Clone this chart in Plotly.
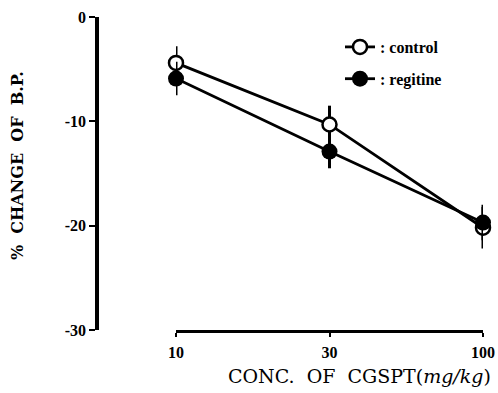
import plotly.graph_objects as go

doses = ["10", "30", "100"]
control = [-4.4, -10.3, -20.2]
control_err = [1.6, 1.8, 2.0]
regitine = [-5.9, -12.9, -19.7]
regitine_err = [1.6, 1.6, 1.7]
y_ticks = [0, -10, -20, -30]
y_ticktext = ["0", "-10", "-20", "-30"]

W, H = 498, 393
serif = "Liberation Serif"
wide_serif = "DejaVu Serif"

fig = go.Figure()
fig.add_trace(go.Scatter(
    x=doses, y=control, name=": control", mode="lines+markers",
    line=dict(color="black", width=2.8),
    marker=dict(symbol="circle", size=14, color="white", line=dict(color="black", width=2.5)),
    error_y=dict(type="data", array=control_err, visible=True, color="black", thickness=3, width=0),
    cliponaxis=False, legendgroup="a",
))
fig.add_trace(go.Scatter(
    x=doses, y=regitine, name=": regitine", mode="lines+markers",
    line=dict(color="black", width=2.8),
    marker=dict(symbol="circle", size=16, color="black", line=dict(color="black", width=0)),
    error_y=dict(type="data", array=regitine_err, visible=True, color="black", thickness=3, width=0),
    cliponaxis=False, legendgroup="b",
))

fig.update_layout(
    width=W, height=H,
    margin=dict(l=0, r=0, t=0, b=0, autoexpand=False),
    paper_bgcolor="white", plot_bgcolor="white",
    showlegend=True,
    legend=dict(
        x=340 / W, y=1 - 30 / H, xanchor="left", yanchor="top",
        font=dict(family=serif, size=16, color="black", weight="bold"),
        bgcolor="rgba(0,0,0,0)", tracegroupgap=8,
        traceorder="grouped",
    ),
    xaxis=dict(
        type="category", categoryorder="array", categoryarray=doses,
        range=[0, 2], domain=[176 / W, 483 / W], automargin=False,
        showline=True, linecolor="black", linewidth=2.5,
        ticks="outside", ticklen=4, tickwidth=2, tickcolor="black",
        tickfont=dict(family=serif, size=16, color="black", weight="bold"),
        ticklabelstandoff=2,
        showgrid=False, zeroline=False, anchor="y",
    ),
    yaxis=dict(
        range=[-30, 0], domain=[(H - 330) / H, (H - 17) / H], automargin=False,
        anchor="free", position=97 / W,
        tickvals=y_ticks, ticktext=y_ticktext,
        showline=True, linecolor="black", linewidth=3.5,
        ticks="outside", ticklen=6, tickwidth=2, tickcolor="black",
        tickfont=dict(family=serif, size=16, color="black", weight="bold"),
        showgrid=False, zeroline=False,
    ),
    annotations=[
        dict(text="%\u00a0\u00a0CHANGE\u00a0\u00a0OF\u00a0\u00a0B.P.", textangle=-90,
             x=17 / W, y=1 - 166 / H, xref="paper", yref="paper",
             xanchor="center", yanchor="middle", showarrow=False,
             font=dict(family=wide_serif, size=16, color="black", weight="bold")),
        dict(text="CONC.\u00a0\u00a0OF\u00a0\u00a0CGSPT(<i>mg/kg</i>)",
             x=359 / W, y=1 - 376 / H, xref="paper", yref="paper",
             xanchor="center", yanchor="middle", showarrow=False,
             font=dict(family=wide_serif, size=19, color="black")),
    ],
)

fig.write_html("out.html", config={"displayModeBar": False},
               post_script="document.body.style.margin='0';")
